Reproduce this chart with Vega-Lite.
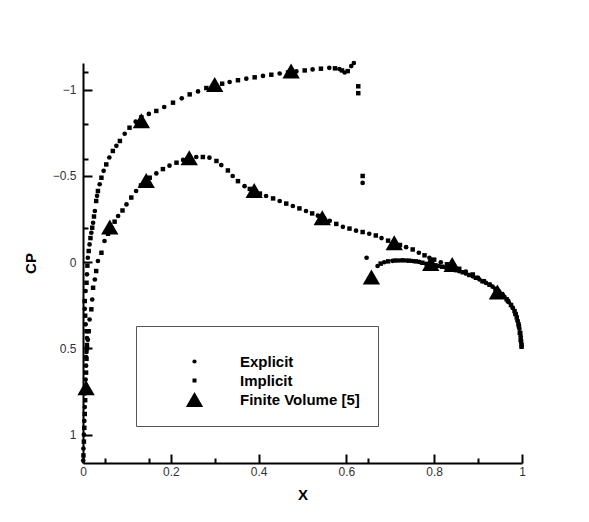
{
  "$schema": "https://vega.github.io/schema/vega-lite/v6.json",
  "width": 439,
  "height": 400,
  "autosize": {"type": "none"},
  "padding": {"left": 83, "top": 63, "right": 67, "bottom": 59},
  "background": "white",
  "config": {
    "view": {"stroke": null},
    "font": "Liberation Sans"
  },
  "datasets": {
    "explicit": [
      {"x":0.0005,"cp":1.15},{"x":0.001,"cp":1.08},{"x":0.002,"cp":1.0},{"x":0.003,"cp":0.92},{"x":0.004,"cp":0.84},{"x":0.005,"cp":0.76},{"x":0.006,"cp":0.68},{"x":0.007,"cp":0.6},{"x":0.008,"cp":0.52},{"x":0.009,"cp":0.44},{"x":0.006,"cp":0.36},{"x":0.004,"cp":0.27},{"x":0.006,"cp":0.167},{"x":0.009,"cp":0.07},{"x":0.011,"cp":-0.026},{"x":0.015,"cp":-0.103},{"x":0.019,"cp":-0.171},{"x":0.023,"cp":-0.229},{"x":0.027,"cp":-0.297},{"x":0.032,"cp":-0.385},{"x":0.038,"cp":-0.452},{"x":0.047,"cp":-0.53},{"x":0.06,"cp":-0.607},{"x":0.076,"cp":-0.675},{"x":0.095,"cp":-0.745},{"x":0.12,"cp":-0.815},{"x":0.15,"cp":-0.86},{"x":0.185,"cp":-0.9},{"x":0.225,"cp":-0.95},{"x":0.262,"cp":-0.99},{"x":0.3,"cp":-1.025},{"x":0.334,"cp":-1.045},{"x":0.372,"cp":-1.064},{"x":0.41,"cp":-1.08},{"x":0.448,"cp":-1.094},{"x":0.486,"cp":-1.106},{"x":0.523,"cp":-1.118},{"x":0.561,"cp":-1.127},{"x":0.584,"cp":-1.12},{"x":0.596,"cp":-1.1},{"x":0.611,"cp":-1.137},{"x":0.617,"cp":-1.155},
      {"x":0.637,"cp":-0.46},{"x":0.646,"cp":-0.026},
      {"x":0.671,"cp":0.022},{"x":0.686,"cp":0.0},{"x":0.705,"cp":-0.008},{"x":0.72,"cp":-0.01},{"x":0.736,"cp":-0.01},{"x":0.751,"cp":-0.007},{"x":0.766,"cp":-0.002},{"x":0.781,"cp":0.009},{"x":0.796,"cp":0.015},{"x":0.81,"cp":0.022},{"x":0.826,"cp":0.03},{"x":0.842,"cp":0.04},{"x":0.857,"cp":0.052},{"x":0.872,"cp":0.066},{"x":0.888,"cp":0.082},{"x":0.903,"cp":0.1},{"x":0.918,"cp":0.12},{"x":0.933,"cp":0.142},{"x":0.948,"cp":0.17},{"x":0.96,"cp":0.2},{"x":0.97,"cp":0.232},{"x":0.979,"cp":0.265},{"x":0.986,"cp":0.3},{"x":0.99,"cp":0.34},{"x":0.994,"cp":0.385},{"x":0.997,"cp":0.43},
      {"x":0.007,"cp":0.55},{"x":0.011,"cp":0.45},{"x":0.015,"cp":0.332},{"x":0.021,"cp":0.216},{"x":0.027,"cp":0.1},{"x":0.034,"cp":-0.007},{"x":0.049,"cp":-0.123},{"x":0.065,"cp":-0.2},{"x":0.08,"cp":-0.268},{"x":0.099,"cp":-0.335},{"x":0.121,"cp":-0.413},{"x":0.144,"cp":-0.474},{"x":0.167,"cp":-0.515},{"x":0.197,"cp":-0.56},{"x":0.228,"cp":-0.593},{"x":0.258,"cp":-0.61},{"x":0.288,"cp":-0.606},{"x":0.315,"cp":-0.563},{"x":0.341,"cp":-0.5},{"x":0.368,"cp":-0.441},{"x":0.39,"cp":-0.416},{"x":0.417,"cp":-0.384},{"x":0.448,"cp":-0.355},{"x":0.478,"cp":-0.326},{"x":0.508,"cp":-0.297},{"x":0.535,"cp":-0.27},{"x":0.562,"cp":-0.24},{"x":0.592,"cp":-0.205},{"x":0.622,"cp":-0.183},{"x":0.652,"cp":-0.165},{"x":0.68,"cp":-0.14},{"x":0.709,"cp":-0.112},{"x":0.736,"cp":-0.087},{"x":0.765,"cp":-0.055},{"x":0.789,"cp":-0.026},{"x":0.815,"cp":0.0},{"x":0.842,"cp":0.022},{"x":0.872,"cp":0.055},{"x":0.9,"cp":0.09},{"x":0.926,"cp":0.129},{"x":0.956,"cp":0.187},{"x":0.979,"cp":0.264},{"x":0.99,"cp":0.341}
    ],
    "implicit": [
      {"x":0.001,"cp":1.12},{"x":0.002,"cp":1.04},{"x":0.003,"cp":0.96},{"x":0.004,"cp":0.88},{"x":0.005,"cp":0.8},{"x":0.006,"cp":0.72},{"x":0.007,"cp":0.64},{"x":0.008,"cp":0.56},{"x":0.009,"cp":0.48},{"x":0.008,"cp":0.4},{"x":0.005,"cp":0.31},{"x":0.004,"cp":0.225},{"x":0.008,"cp":0.119},{"x":0.01,"cp":0.02},{"x":0.013,"cp":-0.065},{"x":0.017,"cp":-0.14},{"x":0.021,"cp":-0.2},{"x":0.025,"cp":-0.265},{"x":0.03,"cp":-0.355},{"x":0.034,"cp":-0.413},{"x":0.042,"cp":-0.49},{"x":0.053,"cp":-0.567},{"x":0.068,"cp":-0.645},{"x":0.084,"cp":-0.703},{"x":0.106,"cp":-0.78},{"x":0.133,"cp":-0.84},{"x":0.167,"cp":-0.877},{"x":0.205,"cp":-0.925},{"x":0.243,"cp":-0.973},{"x":0.281,"cp":-1.01},{"x":0.317,"cp":-1.035},{"x":0.353,"cp":-1.055},{"x":0.391,"cp":-1.072},{"x":0.429,"cp":-1.087},{"x":0.467,"cp":-1.1},{"x":0.505,"cp":-1.112},{"x":0.542,"cp":-1.122},{"x":0.574,"cp":-1.124},{"x":0.59,"cp":-1.112},{"x":0.603,"cp":-1.108},
      {"x":0.627,"cp":-1.02},{"x":0.627,"cp":-0.98},{"x":0.637,"cp":-0.5},
      {"x":0.678,"cp":0.008},{"x":0.695,"cp":-0.005},{"x":0.712,"cp":-0.01},{"x":0.728,"cp":-0.011},{"x":0.743,"cp":-0.009},{"x":0.758,"cp":-0.005},{"x":0.773,"cp":0.003},{"x":0.788,"cp":0.012},{"x":0.803,"cp":0.018},{"x":0.818,"cp":0.026},{"x":0.834,"cp":0.035},{"x":0.85,"cp":0.046},{"x":0.865,"cp":0.058},{"x":0.88,"cp":0.074},{"x":0.895,"cp":0.09},{"x":0.91,"cp":0.11},{"x":0.926,"cp":0.13},{"x":0.94,"cp":0.155},{"x":0.954,"cp":0.185},{"x":0.965,"cp":0.215},{"x":0.975,"cp":0.248},{"x":0.983,"cp":0.283},{"x":0.988,"cp":0.32},{"x":0.992,"cp":0.36},{"x":0.996,"cp":0.41},{"x":0.998,"cp":0.46},{"x":0.999,"cp":0.49},
      {"x":0.009,"cp":0.5},{"x":0.013,"cp":0.4},{"x":0.019,"cp":0.273},{"x":0.023,"cp":0.148},{"x":0.03,"cp":0.051},{"x":0.042,"cp":-0.055},{"x":0.057,"cp":-0.165},{"x":0.072,"cp":-0.235},{"x":0.09,"cp":-0.3},{"x":0.11,"cp":-0.375},{"x":0.132,"cp":-0.445},{"x":0.152,"cp":-0.49},{"x":0.182,"cp":-0.54},{"x":0.213,"cp":-0.577},{"x":0.243,"cp":-0.605},{"x":0.273,"cp":-0.61},{"x":0.304,"cp":-0.587},{"x":0.33,"cp":-0.532},{"x":0.353,"cp":-0.47},{"x":0.38,"cp":-0.425},{"x":0.403,"cp":-0.398},{"x":0.433,"cp":-0.37},{"x":0.463,"cp":-0.34},{"x":0.493,"cp":-0.312},{"x":0.522,"cp":-0.283},{"x":0.548,"cp":-0.255},{"x":0.577,"cp":-0.222},{"x":0.607,"cp":-0.195},{"x":0.637,"cp":-0.175},{"x":0.667,"cp":-0.155},{"x":0.695,"cp":-0.125},{"x":0.722,"cp":-0.1},{"x":0.751,"cp":-0.074},{"x":0.778,"cp":-0.04},{"x":0.8,"cp":-0.015},{"x":0.829,"cp":0.012},{"x":0.857,"cp":0.038},{"x":0.888,"cp":0.071},{"x":0.913,"cp":0.11},{"x":0.94,"cp":0.155},{"x":0.968,"cp":0.225},{"x":0.985,"cp":0.3},{"x":0.993,"cp":0.37},{"x":0.995,"cp":0.41},{"x":0.997,"cp":0.45},{"x":0.999,"cp":0.48}
    ],
    "fv": [
      {"x":0.007,"cp":0.728},{"x":0.061,"cp":-0.204},{"x":0.133,"cp":-0.82},{"x":0.144,"cp":-0.474},{"x":0.242,"cp":-0.606},{"x":0.3,"cp":-1.03},{"x":0.39,"cp":-0.416},{"x":0.474,"cp":-1.108},{"x":0.545,"cp":-0.258},{"x":0.657,"cp":0.085},{"x":0.709,"cp":-0.113},{"x":0.792,"cp":0.008},{"x":0.841,"cp":0.013},{"x":0.944,"cp":0.172}
    ]
  },
  "encoding": {
    "x": {
      "field": "x", "type": "quantitative",
      "scale": {"domain": [0, 1], "nice": false, "zero": false},
      "axis": {
        "title": "X",
        "values": [0, 0.05, 0.15, 0.2, 0.3, 0.4, 0.6, 0.65, 0.8, 0.9, 1],
        "format": "~g",
        "labelExpr": "abs(datum.value*5-round(datum.value*5))<0.001 ? datum.label : ''",
        "tickSize": {"condition": {"test": "abs(datum.value*5-round(datum.value*5))<0.001", "value": -9}, "value": -5},
        "tickWidth": 2,
        "tickColor": "black",
        "domainColor": "black",
        "domainWidth": 2,
        "grid": false,
        "labelFont": "Liberation Sans",
        "labelFontSize": 12,
        "labelColor": "#333",
        "labelPadding": 12,
        "labelFlush": false,
        "titleFont": "Liberation Sans",
        "titleFontSize": 15,
        "titleFontWeight": "bold",
        "titleColor": "black",
        "titlePadding": 10
      }
    },
    "y": {
      "field": "cp", "type": "quantitative",
      "scale": {"domain": [-1.155, 1.164], "reverse": true, "nice": false, "zero": false},
      "axis": {
        "title": "CP",
        "values": [-1.1, -1, -0.8, -0.6, -0.5, -0.2, 0, 0.5, 1],
        "format": "~g",
        "labelExpr": "abs(datum.value*2-round(datum.value*2))<0.001 ? datum.label : ''",
        "tickSize": {"condition": {"test": "abs(datum.value*2-round(datum.value*2))<0.001", "value": -9}, "value": -5},
        "tickWidth": 2,
        "tickColor": "black",
        "domainColor": "black",
        "domainWidth": 2,
        "grid": false,
        "labelFont": "Liberation Sans",
        "labelFontSize": 12,
        "labelColor": "#333",
        "labelPadding": 16,
        "labelFlush": false,
        "titleFont": "Liberation Sans",
        "titleFontSize": 15,
        "titleFontWeight": "bold",
        "titleColor": "black",
        "titlePadding": 14
      }
    }
  },
  "layer": [
    {
      "data": {"name": "explicit"},
      "mark": {"type": "point", "filled": true, "color": "black", "opacity": 1, "size": 22},
      "encoding": {
        "shape": {
          "datum": "Explicit", "type": "nominal",
          "scale": {"domain": ["Explicit", "Implicit", "Finite Volume [5]"], "range": ["circle", "square", "triangle-up"]},
          "legend": {
            "title": " ",
            "titleFontSize": 6,
            "titlePadding": 4,
            "orient": "none",
            "legendX": 53,
            "legendY": 263,
            "padding": 18,
            "strokeColor": "#555",
            "fillColor": "white",
            "symbolOffset": 33,
            "labelOffset": 38,
            "labelFont": "Liberation Sans",
            "labelFontSize": 15,
            "labelFontWeight": "bold",
            "labelColor": "black",
            "labelLimit": 300,
            "rowPadding": 3,
            "symbolFillColor": "black",
            "symbolStrokeWidth": 0,
            "symbolOpacity": 1,
            "symbolSize": {"expr": "datum.value === 'Finite Volume [5]' ? 300 : datum.value === 'Implicit' ? 16 : 18"}
          }
        }
      }
    },
    {
      "data": {"name": "implicit"},
      "mark": {"type": "point", "filled": true, "color": "black", "opacity": 1, "size": 20},
      "encoding": {
        "shape": {"datum": "Implicit", "type": "nominal"}
      }
    },
    {
      "data": {"name": "fv"},
      "mark": {"type": "point", "filled": true, "color": "black", "opacity": 1, "size": 300},
      "encoding": {
        "shape": {"datum": "Finite Volume [5]", "type": "nominal"}
      }
    }
  ]
}
